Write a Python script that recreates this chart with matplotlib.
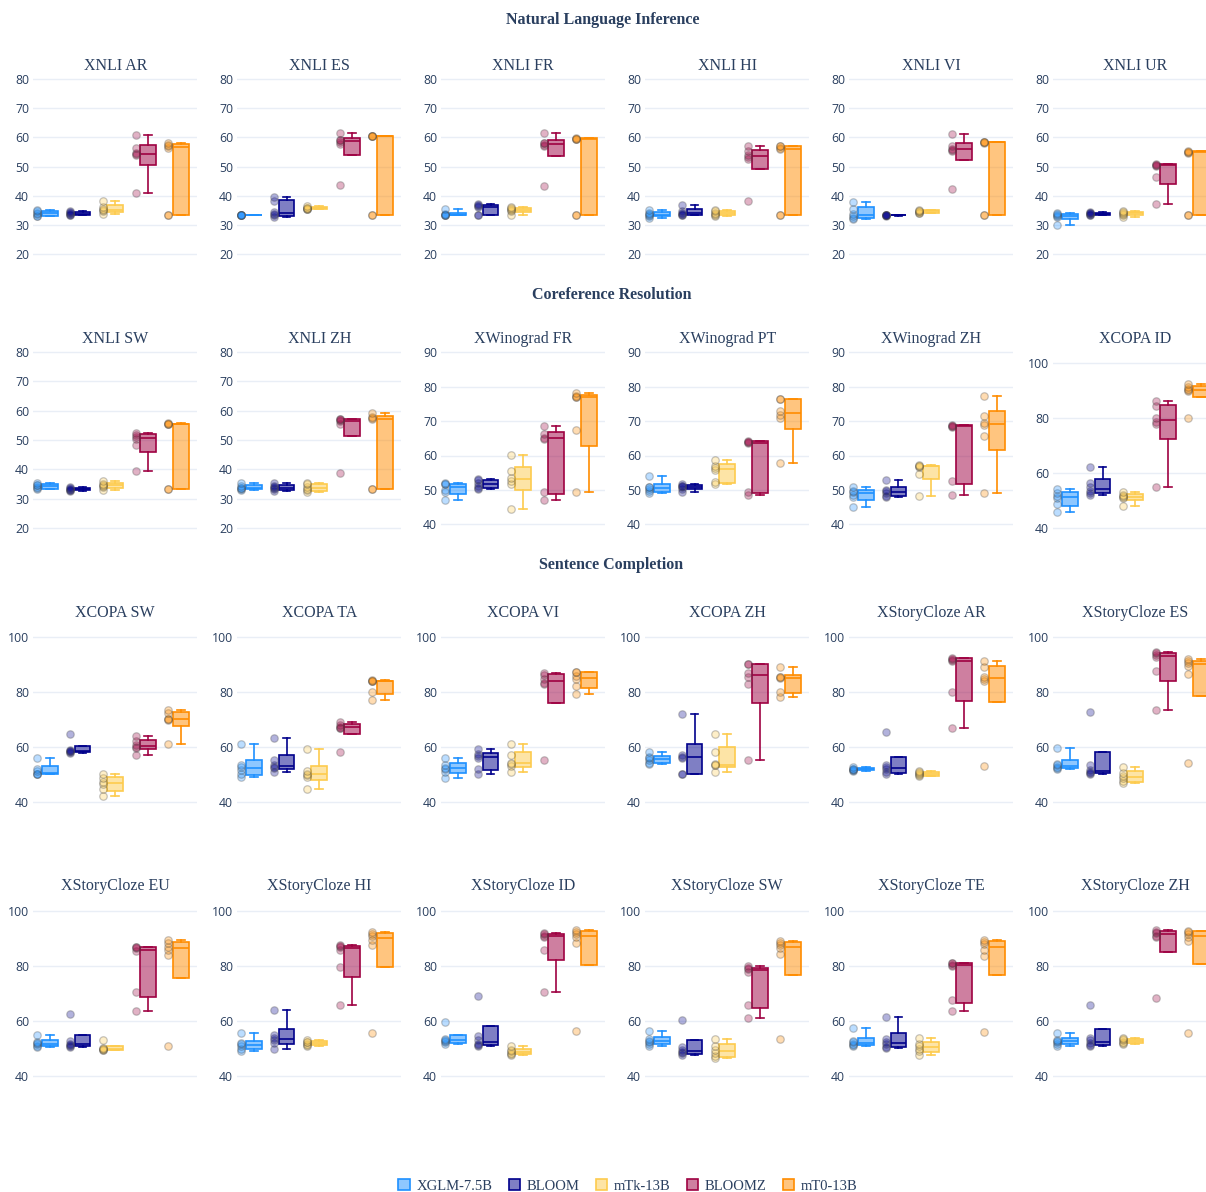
import numpy as np
import matplotlib
matplotlib.use("Agg")
import matplotlib.pyplot as plt
from matplotlib.patches import Patch
from matplotlib.colors import to_rgba

# ---------------- data ----------------
models = ["XGLM-7.5B", "BLOOM", "mTk-13B", "BLOOMZ", "mT0-13B"]
line_colors = ["#1E90FF", "#00008B", "#FDCB4E", "#9E0142", "#FF8C00"]

task_names = ["XNLI AR", "XNLI ES", "XNLI FR", "XNLI HI", "XNLI VI", "XNLI UR",
              "XNLI SW", "XNLI ZH", "XWinograd FR", "XWinograd PT", "XWinograd ZH", "XCOPA ID",
              "XCOPA SW", "XCOPA TA", "XCOPA VI", "XCOPA ZH", "XStoryCloze AR", "XStoryCloze ES",
              "XStoryCloze EU", "XStoryCloze HI", "XStoryCloze ID", "XStoryCloze SW", "XStoryCloze TE", "XStoryCloze ZH"]

xnli_ar = [[33.0, 33.2, 33.8, 34.0, 34.8, 35.1], [33.3, 33.5, 33.7, 34.0, 34.3, 34.6],
           [33.7, 34.6, 35.0, 35.5, 36.2, 38.3], [41.0, 53.8, 54.2, 54.6, 56.2, 60.8],
           [33.3, 33.3, 56.5, 57.0, 57.5, 58.0]]
xnli_es = [[33.3, 33.3, 33.3, 33.3, 33.3, 33.3], [32.6, 33.4, 33.8, 34.4, 38.3, 39.5],
           [35.4, 35.5, 35.6, 35.7, 35.9, 36.4], [43.6, 57.6, 58.4, 59.2, 59.2, 61.4],
           [33.3, 33.3, 60.3, 60.4, 60.5, 60.6]]
xnli_fr = [[33.3, 33.3, 33.4, 33.5, 33.8, 35.4], [33.3, 33.4, 36.0, 36.5, 36.8, 37.2],
           [33.3, 34.6, 35.0, 35.4, 35.8, 36.2], [43.2, 57.0, 57.3, 57.9, 58.1, 61.6],
           [33.3, 33.3, 59.4, 59.5, 59.6, 59.8]]
xnli_hi = [[32.2, 33.2, 33.4, 33.6, 34.0, 35.0], [33.3, 33.4, 33.8, 34.2, 34.8, 36.9],
           [33.0, 33.3, 33.8, 34.2, 34.8, 35.1], [38.1, 52.6, 53.4, 54.0, 55.4, 57.0],
           [33.3, 33.3, 56.0, 56.3, 57.0, 57.2]]
xnli_vi = [[32.1, 32.4, 33.0, 33.8, 35.5, 37.8], [33.2, 33.3, 33.3, 33.4, 33.4, 33.5],
           [33.9, 34.2, 34.5, 34.7, 34.9, 35.2], [42.4, 55.4, 55.7, 56.1, 57.0, 61.2],
           [33.3, 33.3, 58.2, 58.3, 58.3, 58.5]]
xnli_ur = [[30.1, 32.6, 32.9, 33.3, 33.7, 34.2], [33.3, 33.5, 33.7, 33.9, 34.1, 34.3],
           [32.6, 33.5, 33.8, 34.1, 34.4, 34.7], [37.2, 46.4, 50.2, 50.5, 50.6, 51.0],
           [33.3, 33.3, 54.8, 55.0, 55.1, 55.3]]
xnli_sw = [[33.2, 33.5, 34.0, 34.5, 34.8, 35.4], [32.6, 32.9, 33.1, 33.3, 33.6, 34.0],
           [32.8, 33.9, 34.3, 34.8, 35.1, 35.9], [39.5, 48.2, 50.4, 51.0, 51.8, 52.4],
           [33.3, 33.3, 55.3, 55.5, 55.6, 55.7]]
xnli_zh = [[32.8, 33.4, 33.6, 33.8, 34.2, 35.5], [32.7, 33.2, 33.6, 34.0, 34.4, 35.2],
           [32.2, 32.9, 33.3, 34.0, 35.0, 35.3], [38.8, 55.4, 56.4, 56.8, 57.0, 57.3],
           [33.3, 33.3, 57.0, 57.4, 57.8, 59.2]]
xwinograd_fr = [[47.1, 49.3, 50.0, 51.6, 51.8, 51.9], [50.4, 50.5, 51.2, 52.0, 52.8, 53.1],
                [44.5, 51.7, 52.6, 53.6, 55.4, 60.2], [47.0, 49.4, 64.8, 65.2, 66.2, 68.6],
                [49.3, 67.4, 76.9, 77.1, 77.3, 78.3]]
xwinograd_pt = [[49.0, 49.6, 50.2, 50.8, 50.9, 53.9], [49.4, 50.4, 50.8, 51.0, 51.2, 51.6],
                [51.6, 52.3, 55.8, 56.5, 57.0, 58.6], [48.5, 49.4, 63.5, 63.8, 64.0, 64.3],
                [57.7, 71.0, 71.8, 72.8, 76.3, 76.5]]
xwinograd_zh = [[45.1, 47.8, 48.6, 49.4, 49.8, 50.9], [48.0, 48.3, 49.2, 49.7, 50.0, 52.9],
                [48.3, 54.7, 56.8, 57.0, 57.0, 57.1], [48.5, 52.6, 68.4, 68.6, 68.7, 68.9],
                [49.2, 65.8, 68.8, 69.4, 71.4, 77.3]]
xcopa_id = [[46.1, 48.9, 51.2, 51.8, 53.0, 54.2], [52.1, 52.9, 53.6, 55.0, 56.4, 62.2],
            [48.2, 51.0, 51.3, 51.6, 52.2, 53.1], [55.2, 78.1, 78.8, 80.0, 84.4, 86.2],
            [80.2, 90.1, 90.3, 90.5, 91.5, 92.5]]
xcopa_sw = [[49.9, 49.9, 50.2, 51.0, 52.0, 56.0], [57.8, 58.0, 58.3, 58.6, 58.9, 64.8],
            [42.0, 44.7, 46.5, 47.3, 48.5, 50.0], [57.0, 59.7, 60.0, 60.8, 62.0, 64.0],
            [61.0, 69.8, 70.0, 70.2, 72.2, 73.2]]
xcopa_ta = [[49.1, 49.9, 51.6, 52.6, 53.2, 61.0], [50.9, 52.1, 52.8, 53.4, 55.2, 63.0],
            [44.8, 49.0, 49.6, 50.2, 51.2, 59.0], [57.9, 66.8, 66.9, 67.1, 68.0, 69.1],
            [77.0, 80.0, 83.8, 84.0, 84.0, 84.2]]
xcopa_vi = [[48.8, 50.8, 51.8, 52.4, 53.2, 56.0], [50.1, 52.0, 56.0, 56.8, 57.2, 59.0],
            [50.9, 53.0, 53.6, 54.2, 57.0, 61.0], [55.2, 82.7, 83.2, 84.8, 86.2, 86.9],
            [79.0, 82.0, 84.6, 85.6, 87.0, 87.2]]
xcopa_zh = [[53.8, 54.0, 55.0, 55.8, 56.4, 58.0], [50.0, 50.2, 55.8, 56.4, 57.1, 72.0],
            [50.9, 53.3, 53.4, 53.6, 58.2, 64.8], [55.0, 82.8, 85.5, 86.7, 90.0, 90.2],
            [78.2, 80.0, 84.9, 85.2, 85.3, 89.0]]
xstory_ar = [[51.3, 51.5, 51.7, 51.8, 52.0, 52.6], [50.0, 50.8, 51.8, 52.6, 53.2, 65.5],
             [49.2, 49.6, 50.0, 50.4, 50.8, 51.2], [66.8, 80.0, 91.0, 91.6, 92.0, 92.3],
             [53.0, 84.0, 84.5, 85.5, 89.0, 91.0]]
xstory_es = [[51.8, 52.2, 52.8, 53.2, 53.8, 59.5], [50.2, 50.6, 50.9, 51.4, 53.5, 72.5],
             [46.8, 47.5, 48.5, 49.5, 50.5, 52.5], [73.5, 87.5, 92.5, 93.5, 94.0, 94.3],
             [54.0, 86.5, 89.5, 90.5, 91.0, 92.0]]
xstory_eu = [[50.6, 51.0, 51.5, 52.0, 52.5, 55.0], [50.6, 51.0, 51.3, 51.8, 52.6, 62.5],
             [49.3, 49.5, 49.7, 49.9, 50.1, 53.0], [63.5, 70.5, 85.5, 86.5, 86.8, 87.0],
             [51.0, 84.0, 86.0, 87.0, 88.5, 89.5]]
xstory_hi = [[49.2, 50.0, 51.0, 51.5, 52.0, 55.5], [50.0, 52.0, 53.0, 54.0, 55.0, 64.0],
             [50.8, 51.2, 51.8, 52.2, 52.5, 53.2], [66.0, 79.5, 86.0, 86.8, 87.2, 87.6],
             [55.5, 87.5, 89.5, 91.0, 91.8, 92.5]]
xstory_id = [[51.8, 52.2, 52.8, 53.2, 53.4, 59.5], [50.8, 51.2, 51.8, 53.0, 54.5, 69.0],
             [47.5, 48.0, 48.5, 49.0, 49.5, 51.0], [70.5, 86.0, 90.5, 91.0, 91.5, 92.0],
             [56.5, 88.5, 90.5, 91.5, 92.5, 93.0]]
xstory_sw = [[51.0, 51.8, 52.3, 52.8, 53.3, 56.5], [47.8, 48.2, 48.8, 49.5, 50.5, 60.5],
             [46.5, 47.2, 48.5, 49.5, 51.0, 53.5], [61.0, 65.8, 78.0, 78.8, 79.2, 80.0],
             [53.5, 84.5, 86.5, 87.5, 88.5, 89.0]]
xstory_te = [[50.8, 51.2, 51.8, 52.3, 52.8, 57.5], [50.2, 50.6, 51.5, 52.5, 53.5, 61.5],
             [47.5, 49.0, 50.0, 51.0, 51.8, 53.8], [63.5, 67.5, 80.0, 80.5, 81.0, 81.2],
             [56.0, 83.5, 86.0, 88.0, 88.8, 89.5]]
xstory_zh = [[51.0, 51.8, 52.4, 52.8, 53.2, 55.5], [50.8, 51.2, 52.0, 53.0, 54.0, 66.0],
             [51.5, 52.0, 52.5, 53.0, 53.4, 54.0], [68.5, 90.5, 91.0, 92.0, 92.5, 93.0],
             [55.5, 89.0, 90.5, 91.5, 92.5, 92.8]]

task_data = [xnli_ar, xnli_es, xnli_fr, xnli_hi, xnli_vi, xnli_ur,
             xnli_sw, xnli_zh, xwinograd_fr, xwinograd_pt, xwinograd_zh, xcopa_id,
             xcopa_sw, xcopa_ta, xcopa_vi, xcopa_zh, xstory_ar, xstory_es,
             xstory_eu, xstory_hi, xstory_id, xstory_sw, xstory_te, xstory_zh]

section_titles = ["Natural Language Inference", "Coreference Resolution", "Sentence Completion"]

# ---------------- layout (pixels) ----------------
W, H = 1206, 1192
row_px = [(72, 268), (345, 541), (619, 815), (893, 1089)]
title_y = [66, 339, 613, 886]
section_pos = [(603, 20), (612, 295), (611, 565)]
col_left = [33.3 + 204 * c for c in range(6)]
col_w = 164

# y-axis calibration: (top tick value, its pixel, bottom tick value, its pixel, step)
c_nli1 = (80, 79, 20, 254, 10)
c_nli2 = (80, 352, 20, 528, 10)
c_wino = (90, 352.3, 40, 524.3, 10)
c_copa2 = (100, 363.3, 40, 528.3, 20)
c_r3 = (100, 636.7, 40, 801.7, 20)
c_r4 = (100, 911, 40, 1076, 20)
calib = [c_nli1] * 6 + [c_nli2, c_nli2, c_wino, c_wino, c_wino, c_copa2] + [c_r3] * 6 + [c_r4] * 6

TXT = "#2a3f5f"
SERIF = "Liberation Serif"
GRID = "#E9EEF6"

fig = plt.figure(figsize=(W / 100, H / 100), dpi=100)


def box_stats(d):
    d = np.sort(np.asarray(d, float))
    q1, med, q3 = np.percentile(d, [25, 50, 75], method="weibull")
    iqr = q3 - q1
    hi = d[d <= q3 + 1.5 * iqr].max()
    lo = d[d >= q1 - 1.5 * iqr].min()
    return dict(med=med, q1=q1, q3=q3, whislo=min(lo, q1), whishi=max(hi, q3), fliers=[])


for idx, (name, data) in enumerate(zip(task_names, task_data)):
    r, c = divmod(idx, 6)
    top, bot = row_px[r]
    left = col_left[c]
    ax = fig.add_axes([left / W, 1 - bot / H, col_w / W, (bot - top) / H])
    ax.patch.set_alpha(0)
    for sp in ax.spines.values():
        sp.set_visible(False)

    for i, vals in enumerate(data):
        col = line_colors[i]
        st = box_stats(vals)
        lp = dict(color=col, lw=1.2)
        ax.bxp([st], positions=[i], widths=0.48, patch_artist=True, showfliers=False,
               manage_ticks=False,
               boxprops=dict(facecolor=to_rgba(col, 0.5), edgecolor=col, lw=1.2),
               whiskerprops=lp, capprops=lp, medianprops=lp, zorder=3)
        ax.plot(np.full(len(vals), i - 0.38), vals, "o", ms=5.4, mfc=col, mec="#444444",
                mew=0.9, alpha=0.3, zorder=4, clip_on=False)

    vt, pt, vb, pb, step = calib[idx]
    s = (pb - pt) / (vt - vb)
    ax.set_ylim(vb - (bot - pb) / s, vt + (pt - top) / s)
    ax.set_yticks(np.arange(vb, vt + 0.1, step))
    ax.set_xlim(-0.5, 4.5)
    ax.set_xticks([])
    ax.grid(axis="y", color=GRID, lw=1.0)
    ax.set_axisbelow(True)
    ax.tick_params(axis="y", length=0, pad=3, labelsize=8.8, labelcolor=TXT)
    for lab in ax.get_yticklabels():
        lab.set_family("Open Sans")

    fig.text((left + col_w / 2) / W, 1 - title_y[r] / H, name, ha="center", va="center",
             fontsize=11.5, family=SERIF, color=TXT)

for t, (x, y) in zip(section_titles, section_pos):
    fig.text(x / W, 1 - y / H, t, ha="center", va="center", fontsize=11.5,
             fontweight="bold", family=SERIF, color=TXT)

handles = [Patch(facecolor=to_rgba(c, 0.5), edgecolor=c, lw=1.2) for c in line_colors]
fig.legend(handles, models, loc="center", bbox_to_anchor=(628 / W, 1 - 1186 / H), ncol=5,
           frameon=False, handlelength=0.8, handleheight=0.8, handletextpad=0.45,
           columnspacing=1.1, prop=dict(family=SERIF, size=10.5), labelcolor=TXT)

fig.savefig("out.png", dpi=100)
